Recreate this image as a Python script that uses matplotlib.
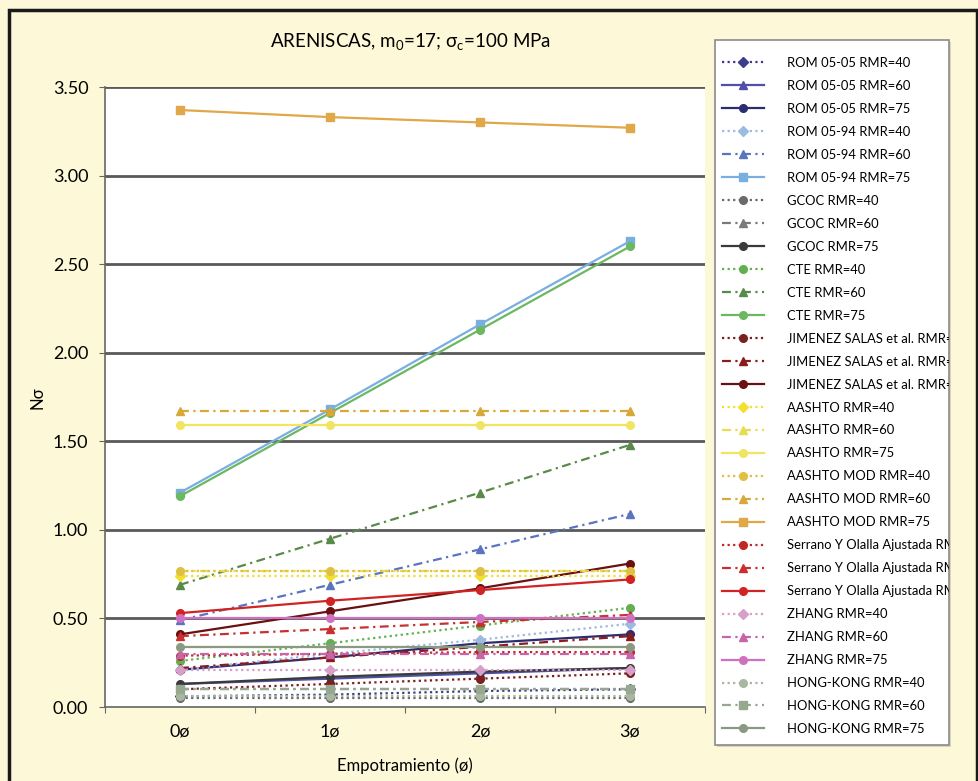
import matplotlib
matplotlib.use("Agg")
import matplotlib.pyplot as plt
from matplotlib.patches import Rectangle
from matplotlib.transforms import Bbox, TransformedBbox

plt.rcParams['font.family'] = ['Lato', 'DejaVu Sans']

# Embedment depth categories
categories = ["0ø", "1ø", "2ø", "3ø"]

# N_sigma values per method and RMR
rom0505_40 = [0.06, 0.07, 0.09, 0.10]
rom0505_60 = [0.13, 0.16, 0.19, 0.22]
rom0505_75 = [0.21, 0.28, 0.36, 0.41]
rom0594_40 = [0.21, 0.30, 0.38, 0.47]
rom0594_60 = [0.49, 0.69, 0.89, 1.09]
rom0594_75 = [1.21, 1.68, 2.16, 2.63]
gcoc_40 = [0.05, 0.05, 0.05, 0.05]
gcoc_60 = [0.10, 0.10, 0.10, 0.10]
gcoc_75 = [0.13, 0.17, 0.20, 0.22]
cte_40 = [0.26, 0.36, 0.46, 0.56]
cte_60 = [0.69, 0.95, 1.21, 1.48]
cte_75 = [1.19, 1.66, 2.13, 2.60]
jim_40 = [0.10, 0.13, 0.16, 0.19]
jim_60 = [0.22, 0.28, 0.34, 0.40]
jim_75 = [0.41, 0.54, 0.67, 0.81]
aashto_40 = [0.74, 0.74, 0.74, 0.74]
aashto_60 = [0.77, 0.77, 0.77, 0.77]
aashto_75 = [1.59, 1.59, 1.59, 1.59]
aamod_40 = [0.77, 0.77, 0.77, 0.77]
aamod_60 = [1.67, 1.67, 1.67, 1.67]
aamod_75 = [3.37, 3.33, 3.30, 3.27]
serr_40 = [0.29, 0.30, 0.31, 0.31]
serr_60 = [0.40, 0.44, 0.48, 0.52]
serr_75 = [0.53, 0.60, 0.66, 0.72]
zhang_40 = [0.21, 0.21, 0.21, 0.21]
zhang_60 = [0.30, 0.30, 0.30, 0.30]
zhang_75 = [0.50, 0.50, 0.50, 0.50]
hk_40 = [0.06, 0.06, 0.06, 0.06]
hk_60 = [0.10, 0.10, 0.10, 0.10]
hk_75 = [0.34, 0.34, 0.34, 0.34]

DOT = (0, (1, 1.5))
DASHDOT = (0, (4, 2, 1, 2))

series = [
    ("ROM 05-05 RMR=40", rom0505_40, "#3c3c8a", DOT, "D"),
    ("ROM 05-05 RMR=60", rom0505_60, "#5050a8", "-", "^"),
    ("ROM 05-05 RMR=75", rom0505_75, "#2c2c70", "-", "o"),
    ("ROM 05-94 RMR=40", rom0594_40, "#9dbbe0", DOT, "D"),
    ("ROM 05-94 RMR=60", rom0594_60, "#5a74c0", DASHDOT, "^"),
    ("ROM 05-94 RMR=75", rom0594_75, "#7aaee0", "-", "s"),
    ("GCOC RMR=40", gcoc_40, "#6a6a6a", DOT, "o"),
    ("GCOC RMR=60", gcoc_60, "#7a7a7a", DASHDOT, "^"),
    ("GCOC RMR=75", gcoc_75, "#3a3a3a", "-", "o"),
    ("CTE RMR=40", cte_40, "#62b050", DOT, "o"),
    ("CTE RMR=60", cte_60, "#5a8a4a", DASHDOT, "^"),
    ("CTE RMR=75", cte_75, "#6cb860", "-", "o"),
    ("JIMENEZ SALAS et al. RMR=40", jim_40, "#7a2020", DOT, "o"),
    ("JIMENEZ SALAS et al. RMR=60", jim_60, "#8c1c1c", DASHDOT, "^"),
    ("JIMENEZ SALAS et al. RMR=75", jim_75, "#6a1010", "-", "o"),
    ("AASHTO RMR=40", aashto_40, "#f0e030", DOT, "D"),
    ("AASHTO RMR=60", aashto_60, "#e8dc50", DASHDOT, "^"),
    ("AASHTO RMR=75", aashto_75, "#f0e460", "-", "o"),
    ("AASHTO MOD RMR=40", aamod_40, "#e0c040", DOT, "o"),
    ("AASHTO MOD RMR=60", aamod_60, "#d8a838", DASHDOT, "^"),
    ("AASHTO MOD RMR=75", aamod_75, "#e0a848", "-", "s"),
    ("Serrano Y Olalla Ajustada RMR=40", serr_40, "#c02828", DOT, "o"),
    ("Serrano Y Olalla Ajustada RMR=60", serr_60, "#c83030", DASHDOT, "^"),
    ("Serrano Y Olalla Ajustada RMR=75", serr_75, "#d02424", "-", "o"),
    ("ZHANG RMR=40", zhang_40, "#d8a0c8", DOT, "D"),
    ("ZHANG RMR=60", zhang_60, "#c864a8", DASHDOT, "^"),
    ("ZHANG RMR=75", zhang_75, "#d070c0", "-", "o"),
    ("HONG-KONG RMR=40", hk_40, "#a8b8a0", DOT, "o"),
    ("HONG-KONG RMR=60", hk_60, "#98a890", DASHDOT, "s"),
    ("HONG-KONG RMR=75", hk_75, "#8a9a80", "-", "o"),
]

W, H = 979, 781
fig = plt.figure(figsize=(W / 100, H / 100), dpi=100)
fig.patch.set_facecolor("#fdf8d8")

# outer frame
fig.add_artist(Rectangle((9 / W, -0.01), (977 - 9) / W, 1 - 10 / H + 0.01,
                         transform=fig.transFigure, fill=False,
                         edgecolor="#1a1a1a", linewidth=2.5))

ax = fig.add_axes([105 / W, 1 - 707 / H, 600 / W, (707 - 87) / H])
ax.set_facecolor("white")

x = list(range(len(categories)))
handles = []
for name, vals, col, ls, mk in series:
    h, = ax.plot(x, vals, color=col, linestyle=ls, linewidth=1.6,
                 marker=mk, markersize=5.5, markerfacecolor=col,
                 markeredgecolor=col, label=name, zorder=3)
    handles.append(h)

ax.set_xlim(-0.5, 3.5)
ax.set_ylim(0, 3.5)
ax.set_yticks([0.5 * i for i in range(8)])
ax.set_yticklabels([f"{0.5 * i:.2f}" for i in range(8)])
ax.set_xticks([-0.5, 0.5, 1.5, 2.5, 3.5])
ax.set_xticklabels([])
ax.set_xticks(x, minor=True)
ax.set_xticklabels(categories, minor=True)
ax.tick_params(axis="x", which="minor", length=0, pad=12, labelsize=13)
ax.tick_params(axis="x", which="major", length=4, direction="out", color="#666666")
ax.tick_params(axis="y", length=4, direction="out", color="#666666", labelsize=13, pad=8)

for v in [0.5 * i for i in range(1, 8)]:
    ax.axhline(v, color="#5a5a5a", linewidth=2.0, zorder=1)

for s in ["top", "right"]:
    ax.spines[s].set_visible(False)
for s in ["left", "bottom"]:
    ax.spines[s].set_color("#666666")
    ax.spines[s].set_linewidth(1.2)

fig.text(410 / W, 1 - 42 / H,
         r"ARENISCAS, m$_\mathregular{0}$=17; σ$_\mathregular{c}$=100 MPa",
         ha="center", va="center", fontsize=13.5)
fig.text(38 / W, 1 - 398 / H, "Nσ", rotation=90, ha="center",
         va="center", fontsize=12)
fig.text(405 / W, 1 - 766 / H, "Empotramiento (ø)", ha="center", va="center",
         fontsize=12)

# legend box
lx0, ly0, lx1, ly1 = 715, 40, 949, 745
fig.add_artist(Rectangle((lx0 / W + 0.002, 1 - ly1 / H - 0.003), (lx1 - lx0) / W, (ly1 - ly0) / H,
                         transform=fig.transFigure, facecolor="#d8d4c0",
                         edgecolor="none", zorder=4))
fig.add_artist(Rectangle((lx0 / W, 1 - ly1 / H), (lx1 - lx0) / W, (ly1 - ly0) / H,
                         transform=fig.transFigure, facecolor="white",
                         edgecolor="#8a8a8a", linewidth=1.2, zorder=5))

leg = fig.legend(handles=handles, loc="upper left",
                 bbox_to_anchor=(722 / W, 1 - 57 / H), frameon=False,
                 fontsize=9.4, handlelength=3.2, handletextpad=1.78,
                 labelspacing=0.84, borderaxespad=0, borderpad=0)
leg.set_zorder(6)
clip = TransformedBbox(Bbox([[lx0 / W, 1 - ly1 / H], [lx1 / W, 1 - ly0 / H]]),
                       fig.transFigure)
for t in leg.get_texts():
    t.set_clip_box(clip)
    t.set_clip_on(True)

fig.savefig("out.png", dpi=100, facecolor=fig.get_facecolor())
